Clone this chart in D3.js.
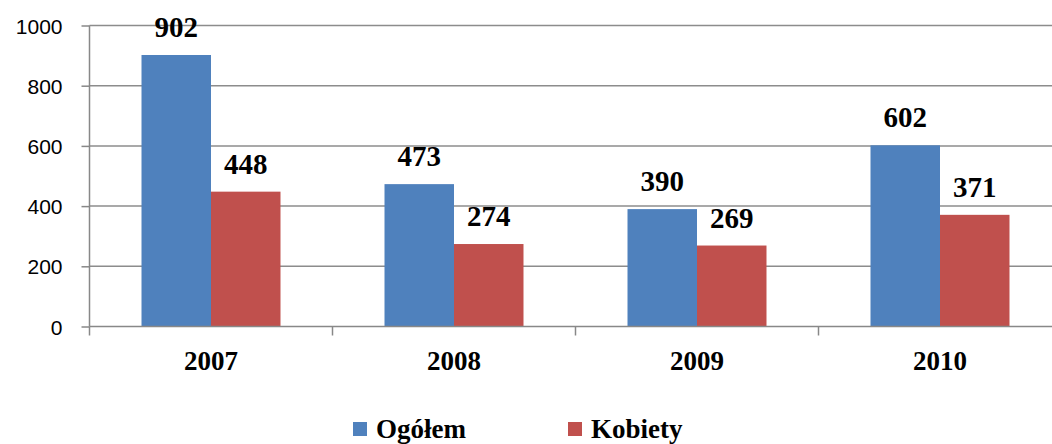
<!DOCTYPE html>
<html>
<head>
<meta charset="utf-8">
<script src="https://d3js.org/d3.v7.min.js"></script>
<style>
  body { margin: 0; background: #fff; }
  svg { display: block; }
  .y.axis text { font-family: "Liberation Sans", Arial, sans-serif; font-size: 21px; fill: #000; }
  .y.axis line, .y.axis path { stroke: #888; stroke-width: 1.5; }
  .grid line { stroke: #8c8c8c; stroke-width: 1.5; }
  .lbl { font-family: "Liberation Serif", "DejaVu Serif", serif; font-weight: bold; fill: #000; }
</style>
</head>
<body>
<div id="chart"></div>
<script>
  // data
  var years = ["2007", "2008", "2009", "2010"];
  var seriesNames = ["Ogółem", "Kobiety"];
  var ogolem = [902, 473, 390, 602];
  var kobiety = [448, 274, 269, 371];
  var yTicks = [0, 200, 400, 600, 800, 1000];
  var colors = ["#4F81BD", "#C0504D"];

  var W = 1052, H = 444;
  var pLeft = 89.5, pRight = 1061.5, pTop = 25.5, pBottom = 326.5;
  var serif = '"Liberation Serif", "DejaVu Serif", serif';

  var svg = d3.select("#chart").append("svg")
    .attr("width", W).attr("height", H);

  var y = d3.scaleLinear().domain([0, 1000]).range([pBottom, pTop]);

  var x0 = d3.scaleBand().domain(years)
    .range([pLeft, pRight])
    .paddingInner(0.428).paddingOuter(0.214);

  var x1 = d3.scaleBand().domain(seriesNames)
    .range([0, x0.bandwidth()]);

  // gridlines
  svg.append("g").attr("class", "grid")
    .selectAll("line").data(yTicks.filter(function(d){ return d > 0; }))
    .enter().append("line")
    .attr("x1", pLeft).attr("x2", W)
    .attr("y1", function(d){ return y(d); })
    .attr("y2", function(d){ return y(d); });

  // bars
  var table = years.map(function(yr, i) {
    return { year: yr, vals: [ogolem[i], kobiety[i]] };
  });

  var groups = svg.selectAll(".grp").data(table).enter().append("g")
    .attr("class", "grp")
    .attr("transform", function(d){ return "translate(" + x0(d.year) + ",0)"; });

  groups.selectAll("rect").data(function(d){
      return d.vals.map(function(v, j){ return { name: seriesNames[j], v: v, j: j }; });
    })
    .enter().append("rect")
    .attr("x", function(d){ return x1(d.name); })
    .attr("width", x1.bandwidth())
    .attr("y", function(d){ return y(d.v); })
    .attr("height", function(d){ return y(0) - y(d.v); })
    .attr("fill", function(d){ return colors[d.j]; });

  groups.selectAll("text").data(function(d){
      return d.vals.map(function(v, j){ return { name: seriesNames[j], v: v }; });
    })
    .enter().append("text")
    .attr("class", "lbl")
    .attr("font-family", serif)
    .attr("font-size", 29)
    .attr("text-anchor", "middle")
    .attr("x", function(d){ return x1(d.name) + x1.bandwidth() / 2; })
    .attr("y", function(d){ return y(d.v) - 18; })
    .text(function(d){ return d.v; });

  // y axis
  var yAxis = d3.axisLeft(y).tickValues(yTicks).tickFormat(d3.format("d"))
    .tickSize(8).tickPadding(19);
  svg.append("g").attr("class", "y axis")
    .attr("transform", "translate(" + pLeft + ",0)")
    .call(yAxis)
    .call(function(g){ g.select(".domain").attr("d", "M0," + pTop + "V" + pBottom); })
    .call(function(g){ g.attr("font-family", null).attr("font-size", null); })
    .selectAll("text").attr("dy", "0.36em");

  // x axis line + category ticks
  svg.append("line")
    .attr("x1", pLeft).attr("x2", W)
    .attr("y1", y(0)).attr("y2", y(0))
    .attr("stroke", "#888").attr("stroke-width", 1.5);

  svg.selectAll(".xtick").data(years).enter().append("line")
    .attr("class", "xtick")
    .attr("x1", function(d){ return x0(d) - x0.step() * x0.paddingInner() / 2; })
    .attr("x2", function(d){ return x0(d) - x0.step() * x0.paddingInner() / 2; })
    .attr("y1", y(0)).attr("y2", y(0) + 9)
    .attr("stroke", "#888").attr("stroke-width", 1.5);

  svg.selectAll(".xlab").data(years).enter().append("text")
    .attr("class", "lbl")
    .attr("font-family", serif)
    .attr("font-size", 27)
    .attr("text-anchor", "middle")
    .attr("x", function(d){ return x0(d) + x0.bandwidth() / 2; })
    .attr("y", 370)
    .text(function(d){ return d; });

  // legend
  var legX = [353, 568];
  var leg = svg.selectAll(".leg").data(seriesNames).enter().append("g")
    .attr("class", "leg")
    .attr("transform", function(d, i){ return "translate(" + legX[i] + ",422)"; });
  leg.append("rect").attr("width", 14).attr("height", 14)
    .attr("fill", function(d, i){ return colors[i]; });
  leg.append("text").attr("class", "lbl")
    .attr("font-family", serif)
    .attr("font-size", 27)
    .attr("x", 23).attr("y", 16)
    .text(function(d){ return d; });
</script>
</body>
</html>
